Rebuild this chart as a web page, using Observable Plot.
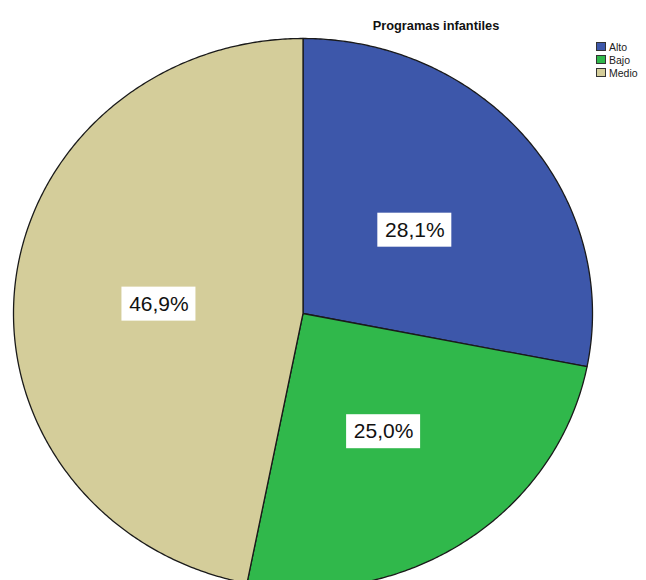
<!DOCTYPE html>
<html>
<head>
<meta charset="utf-8">
<script src="https://cdn.jsdelivr.net/npm/d3@7"></script>
<script src="https://cdn.jsdelivr.net/npm/@observablehq/plot@0.6"></script>
<style>
  html, body { margin: 0; padding: 0; background: #fff; overflow: hidden; }
  #wrap { position: relative; width: 646px; height: 580px; overflow: hidden; font-family: "Liberation Sans", Arial, sans-serif; }
  #wrap svg { position: absolute; left: 0; top: 0; overflow: hidden; }
  #title { position: absolute; left: 336px; width: 200px; top: 18px; text-align: center; font-weight: bold; font-size: 12.8px; color: #111; }
  #legend { position: absolute; left: 596px; top: 40px; font-size: 10.5px; color: #222; }
  .item { display: flex; align-items: center; height: 13px; }
  .sw { width: 10px; height: 9px; border: 1px solid #333; box-sizing: border-box; margin-right: 3px; }
</style>
</head>
<body>
<div id="wrap">
  <div id="title">Programas infantiles</div>
  <div id="legend"></div>
</div>
<script>
const categories = ["Alto", "Bajo", "Medio"];
const percents = [28.1, 25.0, 46.9];
const labels = ["28,1%", "25,0%", "46,9%"];
const colors = ["#3d57aa", "#30b84b", "#d4cd9a"];

// build slice outlines (angles clockwise from top) from the values
const total = d3.sum(percents);
const pts = [];
const labs = [];
let start = 0;
categories.forEach((cat, i) => {
  const a0 = start / total * 2 * Math.PI;
  const a1 = (start + percents[i]) / total * 2 * Math.PI;
  pts.push({cat, x: 0, y: 0});
  const n = Math.max(2, Math.ceil((a1 - a0) / (Math.PI / 360)));
  for (let k = 0; k <= n; k++) {
    const a = a0 + (a1 - a0) * k / n;
    pts.push({cat, x: Math.sin(a), y: Math.cos(a)});
  }
  pts.push({cat, x: 0, y: 0});
  const am = (a0 + a1) / 2;
  labs.push({cat, text: labels[i], x: 0.5 * Math.sin(am), y: 0.5 * Math.cos(am)});
  start += percents[i];
});

const chart = Plot.plot({
  width: 646,
  height: 580,
  x: {domain: [-1, 1], range: [13, 592], axis: null},
  y: {domain: [-1, 1], range: [588, 38], axis: null},
  color: {domain: categories, range: colors},
  marks: [
    Plot.line(pts, {x: "x", y: "y", z: "cat", fill: "cat", stroke: "#1a1a1a", strokeWidth: 1.3, strokeLinejoin: "round"}),
    Plot.rect(labs, {x1: "x", x2: "x", y1: "y", y2: "y", fill: "white", dy: 4, insetLeft: -37, insetRight: -37, insetTop: -17, insetBottom: -17}),
    Plot.text(labs, {x: "x", y: "y", text: "text", dy: 4, fontSize: 21, fill: "#111", fontFamily: "Liberation Sans, Arial, sans-serif"})
  ]
});
document.getElementById("wrap").prepend(chart);

const legend = document.getElementById("legend");
categories.forEach((c, i) => {
  const it = document.createElement("div");
  it.className = "item";
  const sw = document.createElement("span");
  sw.className = "sw";
  sw.style.background = colors[i];
  const t = document.createElement("span");
  t.textContent = c;
  it.appendChild(sw);
  it.appendChild(t);
  legend.appendChild(it);
});
</script>
</body>
</html>
